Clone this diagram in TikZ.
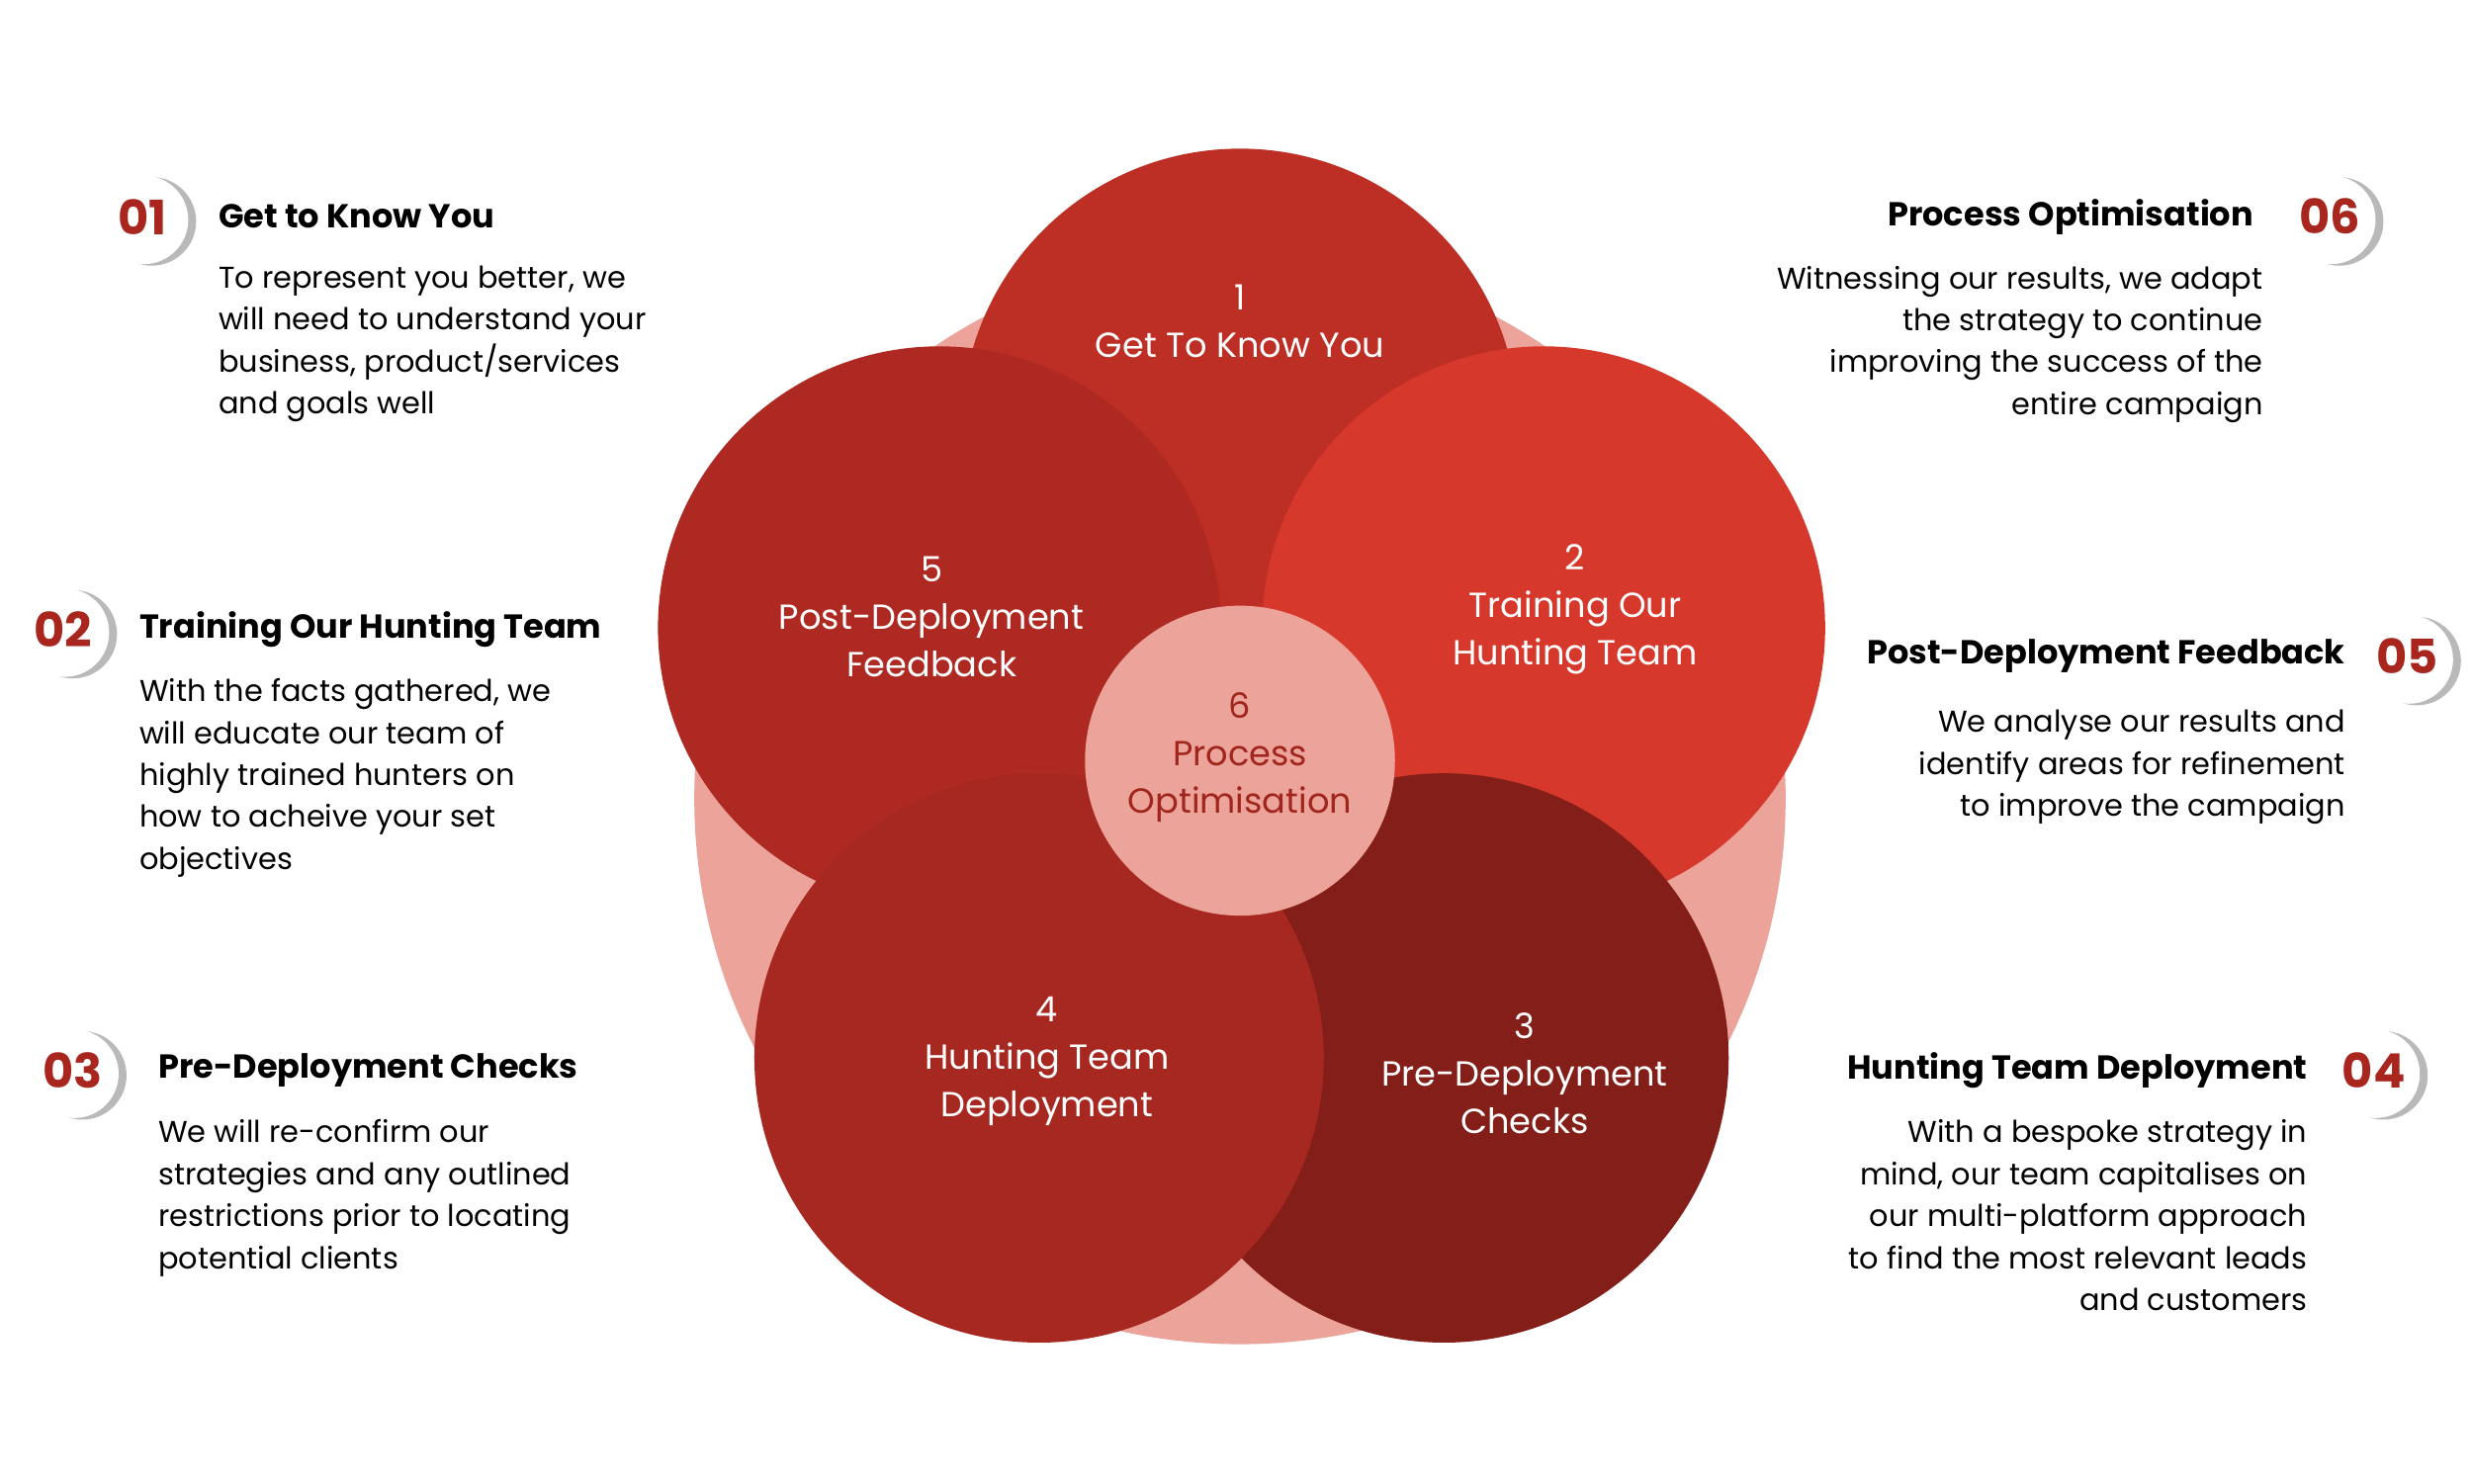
\documentclass[tikz,border=0pt]{standalone}
\usepackage{fontspec}
\setmainfont{Poppins}
\begin{document}
\begin{tikzpicture}[x=1pt,y=-1pt,
  circ/.style={circle,inner sep=0pt},
  intext/.style={text=white,font=\fontsize{22}{30}\selectfont,align=center},
  ttl/.style={font=\fontsize{21}{26}\selectfont\bfseries,inner sep=0pt},
  bodyl/.style={font=\fontsize{19}{26.5}\selectfont,align=left,inner sep=0pt,anchor=north west},
  bodyr/.style={font=\fontsize{19}{26.5}\selectfont,align=right,inner sep=0pt,anchor=north east},
  num/.style={font=\fontsize{30}{30}\selectfont\bfseries,text=red!55!black!90,inner sep=0pt}]
\definecolor{pinkbg}{HTML}{EBA39A}
\definecolor{cA}{HTML}{BD2E24}
\definecolor{cB}{HTML}{D7382C}
\definecolor{cC}{HTML}{841E18}
\definecolor{cD}{HTML}{A62820}
\definecolor{cE}{HTML}{AE2921}
\definecolor{numred}{HTML}{A8261E}
\definecolor{txtred}{HTML}{A0251D}
\useasboundingbox (0,0) rectangle (1563,938);
\fill[white] (0,0) rectangle (1563,938);
\fill[pinkbg] (784,505) circle (345);
\fill[cA] (784,270) circle (176);
\fill[cB] (976,397) circle (178);
\fill[cC] (913,669) circle (180);
\fill[cE] (594,397) circle (178);
\fill[cD] (657,669) circle (180);
\fill[pinkbg] (784,481) circle (98);
\node[intext] (n1) at (784,203) {1\\Get To Know You};
\node[intext] (n2) at (996,385) {2\\Training Our\\Hunting Team};
\node[intext] (n3) at (964,679) {3\\Pre-Deployment\\Checks};
\node[intext] (n4) at (662,671) {4\\Hunting Team\\Deployment};
\node[intext] (n5) at (589,390) {5\\Post-Deployment\\Feedback};
\node[intext,text=txtred] (n6) at (784,479) {6\\Process\\Optimisation};
% badges
\foreach \nm/\x/\y/\t in {b1/90/137/01,b2/40/398/02,b3/46/677/03,b6/1473/137/06,b5/1522/415/05,b4/1501/677/04}{
  \fill[gray!55] (\x+6,\y+3) circle (28);
  \fill[white] (\x+1,\y+2) circle (28);
  \node[num,text=numred] (\nm) at (\x,\y) {\t};
}
% left side
\node[ttl,anchor=west] (t1) at (138,137) {Get to Know You};
\node[bodyl] (d1) at (138,168) {To represent you better, we\\will need to understand your\\business, product/services\\and goals well};
\node[ttl,anchor=west] (t2) at (88,398) {Training Our Hunting Team};
\node[bodyl] (d2) at (88,429) {With the facts gathered, we\\will educate our team of\\highly trained hunters on\\how to acheive your set\\objectives};
\node[ttl,anchor=west] (t3) at (100,677) {Pre-Deployment Checks};
\node[bodyl] (d3) at (100,708) {We will re-confirm our\\strategies and any outlined\\restrictions prior to locating\\potential clients};
% right side
\node[ttl,anchor=east] (t6) at (1425,137) {Process Optimisation};
\node[bodyr] (d6) at (1431,168) {Witnessing our results, we adapt\\the strategy to continue\\improving the success of the\\entire campaign};
\node[ttl,anchor=east] (t5) at (1483,415) {Post-Deployment Feedback};
\node[bodyr] (d5) at (1483,449) {We analyse our results and\\identify areas for refinement\\to improve the campaign};
\node[ttl,anchor=east] (t4) at (1459,677) {Hunting Team Deployment};
\node[bodyr] (d4) at (1459,708) {With a bespoke strategy in\\mind, our team capitalises on\\our multi-platform approach\\to find the most relevant leads\\and customers};
\end{tikzpicture}
\end{document}
